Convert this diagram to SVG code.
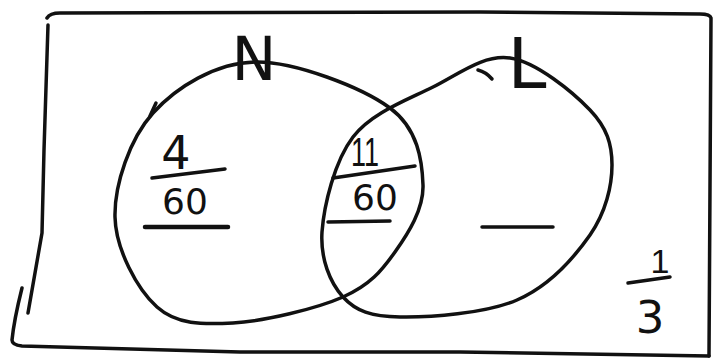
<svg xmlns="http://www.w3.org/2000/svg" width="714" height="362" viewBox="0 0 714 362">
<style>
.ink{fill:none;stroke:#111;stroke-width:3.5;stroke-linecap:round;stroke-linejoin:round}
.thick{stroke-width:4.5}
.t{font-family:"DejaVu Sans","Liberation Sans",sans-serif;fill:#111;text-anchor:middle}
.n{font-family:"Liberation Sans","DejaVu Sans",sans-serif}
</style>
<rect width="714" height="362" fill="#fff"/>
<g id="frame">
<path class="ink" d="M47,18 Q50,13 60,13 L480,12 L700,14 Q710,14 711,18 L709,356"/>
<path class="ink" d="M48,25 L44,150 L42,233 L28,313"/>
<path class="ink" d="M22,288 Q14,320 12,340 Q12,345 22,346 L240,352 L460,352 L709,356"/>
</g>
<g id="set-N">
<path class="ink" d="M255,62 C294.5,61.2 362,87.5 390,108 C418,128.5 422.2,161 423,185 C423.8,209 408.3,233.3 395,252 C381.7,270.7 370,285.2 343,297 C316,308.8 264,321.3 233,323 C202,324.7 176.7,324.7 157,307 C137.3,289.3 115.7,249.3 115,217 C114.3,184.7 129.7,138.8 153,113 C176.3,87.2 215.5,62.8 255,62 Z"/>
<path class="ink" d="M150,116 L156,103"/>
<text class="t" x="254" y="80" font-size="60">N</text>
</g>
<g id="set-L">
<path class="ink" d="M510,58 C536.2,61.8 573,92.2 590,110 C607,127.8 612,144.2 612,165 C612,185.8 605.8,212.5 590,235 C574.2,257.5 548.7,286.3 517,300 C485.3,313.7 429,317.5 400,317 C371,316.5 356,311.2 343,297 C330,282.8 320.3,258.7 322,232 C324,205.3 334.5,161.2 353,137 C371.5,112.8 406.8,100.2 433,87 C459.2,73.8 483.8,54.2 510,58 Z"/>
<path class="ink" d="M478,70 Q486,72 492,79"/>
<text class="t" x="527" y="88" font-size="70">L</text>
</g>
<g id="region-N-only">
<text class="t" x="176" y="169" font-size="46">4</text>
<path class="ink" d="M152,178 L225,169"/>
<text class="t" x="185" y="214" font-size="36">60</text>
<path class="ink thick" d="M145,227 L228,227"/>
</g>
<g id="region-both">
<text class="t n" x="365" y="166" font-size="40" textLength="28" lengthAdjust="spacingAndGlyphs">11</text>
<path class="ink" d="M333,178 L415,166"/>
<text class="t" x="375" y="210" font-size="36">60</text>
<path class="ink" d="M328,222 L390,221"/>
</g>
<g id="region-L-only">
<path class="ink" d="M482,227 L553,227"/>
</g>
<g id="outside">
<text class="t n" x="660" y="273" font-size="34">1</text>
<path class="ink" d="M628,283 L670,277"/>
<text class="t" x="650" y="333" font-size="45">3</text>
</g>
</svg>
